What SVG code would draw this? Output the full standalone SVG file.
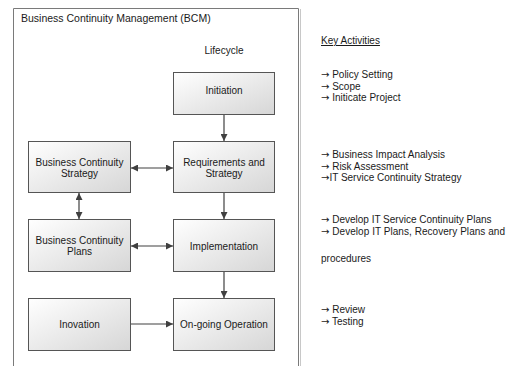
<svg xmlns="http://www.w3.org/2000/svg" width="515" height="366" viewBox="0 0 515 366">
<defs>
<linearGradient id="g" x1="0" y1="0" x2="1" y2="1">
<stop offset="0" stop-color="#ffffff"/>
<stop offset="1" stop-color="#d6d6d6"/>
</linearGradient>
<marker id="ah" viewBox="0 0 10 10" refX="10" refY="5" markerWidth="7" markerHeight="7" orient="auto-start-reverse" markerUnits="userSpaceOnUse">
<path d="M0,0 L10,5 L0,10 z" fill="#404040"/>
</marker>
</defs>
<style>
text{font-family:"Liberation Sans",Arial,sans-serif;font-size:10px;fill:#1a1a1a}
tspan.a{font-family:"DejaVu Sans",sans-serif;font-size:10px}
.box{fill:url(#g);stroke:#555;stroke-width:1}
.c{text-anchor:middle}
.ln{stroke:#404040;stroke-width:1.2;fill:none}
</style>
<rect x="0" y="0" width="515" height="366" fill="#fff"/>
<g id="frame">
<path d="M13.5,366 V8.5 H298.5 V366" fill="none" stroke="#7a7a7a" stroke-width="1"/>
<path d="M300.5,9 V366" stroke="#c8c8c8" stroke-width="1"/>
<text x="21" y="22" style="font-size:10.5px">Business Continuity Management (BCM)</text>
<text x="224" y="54" class="c">Lifecycle</text>
</g>
<g id="connectors">
<line class="ln" x1="224" y1="115" x2="224" y2="141" marker-end="url(#ah)"/>
<line class="ln" x1="224" y1="193" x2="224" y2="219" marker-end="url(#ah)"/>
<line class="ln" x1="224" y1="272" x2="224" y2="298" marker-end="url(#ah)"/>
<line class="ln" x1="131" y1="168" x2="173" y2="168" marker-start="url(#ah)" marker-end="url(#ah)"/>
<line class="ln" x1="131" y1="246" x2="173" y2="246" marker-start="url(#ah)" marker-end="url(#ah)"/>
<line class="ln" x1="79" y1="193" x2="79" y2="219" marker-start="url(#ah)" marker-end="url(#ah)"/>
<line class="ln" x1="131" y1="324" x2="173" y2="324" marker-end="url(#ah)"/>
</g>
<g id="initiation">
<rect class="box" x="173.5" y="72.5" width="101" height="42"/>
<text x="224" y="93.5" class="c">Initiation</text>
</g>
<g id="requirements">
<rect class="box" x="173.5" y="141.5" width="101" height="51"/>
<text x="224" y="166" class="c">Requirements and</text>
<text x="224" y="177" class="c">Strategy</text>
</g>
<g id="bcstrategy">
<rect class="box" x="28.5" y="141.5" width="102" height="51"/>
<text x="79.5" y="166" class="c">Business Continuity</text>
<text x="79.5" y="177" class="c">Strategy</text>
</g>
<g id="bcplans">
<rect class="box" x="28.5" y="219.5" width="102" height="52"/>
<text x="79.5" y="244" class="c">Business Continuity</text>
<text x="79.5" y="255" class="c">Plans</text>
</g>
<g id="implementation">
<rect class="box" x="173.5" y="219.5" width="101" height="52"/>
<text x="224" y="250" class="c">Implementation</text>
</g>
<g id="inovation">
<rect class="box" x="28.5" y="298.5" width="102" height="52"/>
<text x="79.5" y="327.5" class="c">Inovation</text>
</g>
<g id="ongoing">
<rect class="box" x="173.5" y="298.5" width="101" height="52"/>
<text x="224" y="327.5" class="c">On-going Operation</text>
</g>
<g id="activities">
<text x="321" y="44" text-decoration="underline">Key Activities</text>
<text x="321" y="78"><tspan class="a">→</tspan> Policy Setting</text>
<text x="321" y="89.5"><tspan class="a">→</tspan> Scope</text>
<text x="321" y="101"><tspan class="a">→</tspan> Initicate Project</text>
<text x="321" y="158"><tspan class="a">→</tspan> Business Impact Analysis</text>
<text x="321" y="169.5"><tspan class="a">→</tspan> Risk Assessment</text>
<text x="321" y="181"><tspan class="a">→</tspan>IT Service Continuity Strategy</text>
<text x="321" y="223"><tspan class="a">→</tspan> Develop IT Service Continuity Plans</text>
<text x="321" y="234.5" textLength="184" lengthAdjust="spacing"><tspan class="a">→</tspan> Develop IT Plans, Recovery Plans and</text>
<text x="321" y="262">procedures</text>
<text x="321" y="313"><tspan class="a">→</tspan> Review</text>
<text x="321" y="324.5"><tspan class="a">→</tspan> Testing</text>
</g>
</svg>
